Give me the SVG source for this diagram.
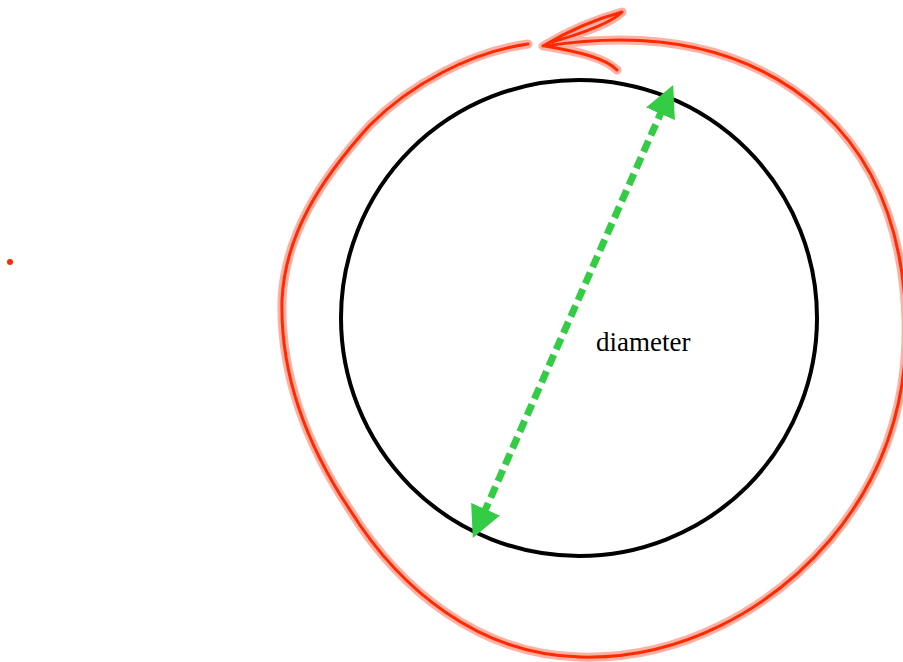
<svg xmlns="http://www.w3.org/2000/svg" width="903" height="662" viewBox="0 0 903 662">
<defs>
<style>
.halo{fill:none;stroke:#ff3a1a;stroke-opacity:0.4;stroke-width:9;stroke-linecap:round;stroke-linejoin:round}
.core{fill:none;stroke:#ff2a00;stroke-width:3;stroke-linecap:round;stroke-linejoin:round}
.lbl{font-family:"Liberation Serif",serif;font-size:27px;fill:#000}
</style>
<marker id="ah" viewBox="0 0 10 10" refX="2" refY="5" markerWidth="4.5" markerHeight="4.5" orient="auto-start-reverse" markerUnits="strokeWidth">
<path d="M0,0 L10,5 L0,10 Z" fill="#33cc44"/>
</marker>
</defs>
<rect width="903" height="662" fill="#fff"/>
<g id="rotation">
<path class="halo" d="M528,44 C470,52 410,85 370,125 C320,180 285,235 282,300 C280,380 310,450 350,510 C400,590 480,655 580,657 C680,660 770,610 830,540 C885,475 908,400 906,320 C903,230 875,160 822,112 C762,58 690,40 620,40 C590,40 565,43 545,46 M543,46 C570,30 600,18 622,12 C610,24 580,34 552,42 M545,46 C580,52 605,58 617,70"/>
<path class="core" d="M528,44 C470,52 410,85 370,125 C320,180 285,235 282,300 C280,380 310,450 350,510 C400,590 480,655 580,657 C680,660 770,610 830,540 C885,475 908,400 906,320 C903,230 875,160 822,112 C762,58 690,40 620,40 C590,40 565,43 545,46 M543,46 C570,30 600,18 622,12 C610,24 580,34 552,42 M545,46 C580,52 605,58 617,70"/>
<circle cx="10" cy="262" r="3" fill="#ff2a00"/>
</g>
<g id="circle">
<circle cx="579" cy="318" r="238" fill="none" stroke="#000" stroke-width="4"/>
</g>
<g id="connectors">
<line x1="663" y1="108" x2="483" y2="515" stroke="#33cc44" stroke-width="7" stroke-dasharray="12,6" marker-start="url(#ah)" marker-end="url(#ah)"/>
</g>
<g id="label">
<text class="lbl" x="596" y="351">diameter</text>
</g>
</svg>
